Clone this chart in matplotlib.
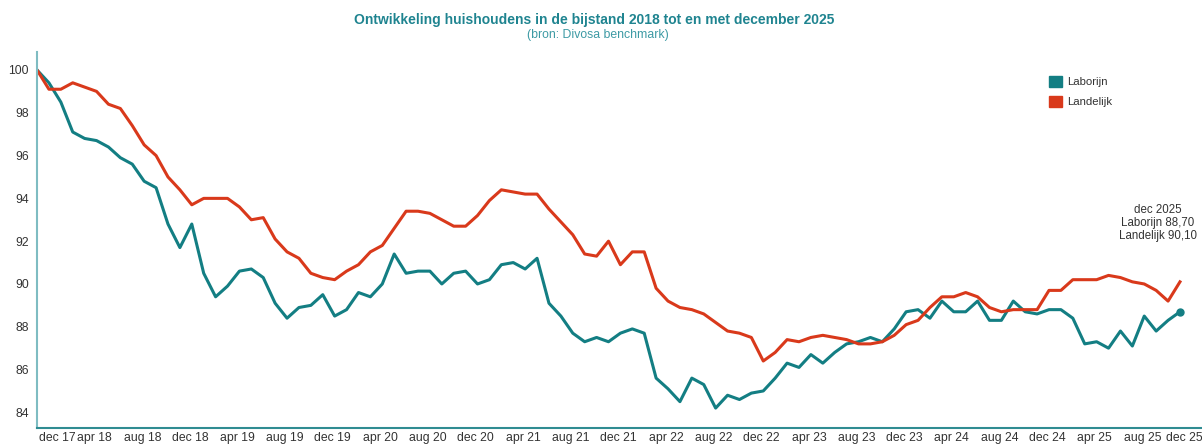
import numpy as np
import matplotlib
matplotlib.use('Agg')
import matplotlib.pyplot as plt
from matplotlib.patches import Patch
from matplotlib.transforms import ScaledTranslation

# --- Data ---
# Index (dec 2017 = 100), monthly from dec 17 to dec 25
laborijn = [
    100.0, 99.4, 98.5, 97.1, 96.8, 96.7, 96.4, 95.9, 95.6, 94.8, 94.5, 92.8,
    91.7, 92.8, 90.5, 89.4, 89.9, 90.6, 90.7, 90.3, 89.1, 88.4, 88.9, 89.0,
    89.5, 88.5, 88.8, 89.6, 89.4, 90.0, 91.4, 90.5, 90.6, 90.6, 90.0, 90.5,
    90.6, 90.0, 90.2, 90.9, 91.0, 90.7, 91.2, 89.1, 88.5, 87.7, 87.3, 87.5,
    87.3, 87.7, 87.9, 87.7, 85.6, 85.1, 84.5, 85.6, 85.3, 84.2, 84.8, 84.6,
    84.9, 85.0, 85.6, 86.3, 86.1, 86.7, 86.3, 86.8, 87.2, 87.3, 87.5, 87.3,
    87.9, 88.7, 88.8, 88.4, 89.2, 88.7, 88.7, 89.2, 88.3, 88.3, 89.2, 88.7,
    88.6, 88.8, 88.8, 88.4, 87.2, 87.3, 87.0, 87.8, 87.1, 88.5, 87.8, 88.3,
    88.7,
]
landelijk = [
    100.0, 99.1, 99.1, 99.4, 99.2, 99.0, 98.4, 98.2, 97.4, 96.5, 96.0, 95.0,
    94.4, 93.7, 94.0, 94.0, 94.0, 93.6, 93.0, 93.1, 92.1, 91.5, 91.2, 90.5,
    90.3, 90.2, 90.6, 90.9, 91.5, 91.8, 92.6, 93.4, 93.4, 93.3, 93.0, 92.7,
    92.7, 93.2, 93.9, 94.4, 94.3, 94.2, 94.2, 93.5, 92.9, 92.3, 91.4, 91.3,
    92.0, 90.9, 91.5, 91.5, 89.8, 89.2, 88.9, 88.8, 88.6, 88.2, 87.8, 87.7,
    87.5, 86.4, 86.8, 87.4, 87.3, 87.5, 87.6, 87.5, 87.4, 87.2, 87.2, 87.3,
    87.6, 88.1, 88.3, 88.9, 89.4, 89.4, 89.6, 89.4, 88.9, 88.7, 88.8, 88.8,
    88.8, 89.7, 89.7, 90.2, 90.2, 90.2, 90.4, 90.3, 90.1, 90.0, 89.7, 89.2,
    90.1,
]
months = ['jan', 'feb', 'mrt', 'apr', 'mei', 'jun', 'jul', 'aug', 'sep', 'okt', 'nov', 'dec']
labels = []
for i in range(len(laborijn)):
    m = (11 + i) % 12
    y = 17 + (11 + i) // 12
    labels.append(f'{months[m]} {y:02d}')
yticks = [84, 86, 88, 90, 92, 94, 96, 98, 100]

# --- Style ---
plt.rcParams['font.family'] = ['Liberation Sans', 'DejaVu Sans']
teal = '#137e83'
red = '#d9391b'
text_col = '#333333'

fig = plt.figure(figsize=(12.02, 4.46), dpi=100)
ax = fig.add_axes([0.0308, 0.0404, 0.9692, 0.843])

x = np.arange(len(laborijn))
ax.plot(x, laborijn, color=teal, lw=2.2, solid_joinstyle='round')
ax.plot(x, landelijk, color=red, lw=2.2, solid_joinstyle='round')
ax.plot(x[-1], laborijn[-1], 'o', color=teal, ms=5)

ax.set_xlim(0, 97.85)
ax.set_ylim(83.27, 100.84)

# axes look
for s in ['top', 'right']:
    ax.spines[s].set_visible(False)
ax.spines['left'].set_color('#7fbcc2')
ax.spines['left'].set_linewidth(1.5)
ax.spines['bottom'].set_color('#2f8c92')
ax.spines['bottom'].set_linewidth(1.5)

ax.set_yticks(yticks)
ax.set_yticklabels([str(v) for v in yticks])
ax.tick_params(axis='y', length=0, pad=6, labelsize=8.8, labelcolor=text_col)

tick_pos = x[::4]
ax.set_xticks(tick_pos)
ax.set_xticklabels([labels[i] for i in tick_pos])
ax.tick_params(axis='x', length=0, pad=3, labelsize=8.8, labelcolor=text_col)
xlabs = ax.get_xticklabels()
for k, lab in enumerate(xlabs):
    dx = 10
    if k == 0:
        dx = 20
    elif k == len(xlabs) - 1:
        dx = 4
    lab.set_transform(lab.get_transform() + ScaledTranslation(dx / 100, 0, fig.dpi_scale_trans))

# --- Titles ---
fig.text(0.494, 0.956, 'Ontwikkeling huishoudens in de bijstand 2018 tot en met december 2025',
         ha='center', va='center', fontsize=10, fontweight='bold', color='#1f8490')
fig.text(0.497, 0.921, '(bron: Divosa benchmark)', ha='center', va='center',
         fontsize=8.8, color='#3d9aa4')

# --- Legend ---
handles = [Patch(facecolor=teal, edgecolor=teal, label='Laborijn'),
           Patch(facecolor=red, edgecolor=red, label='Landelijk')]
fig.legend(handles=handles, loc='upper left', bbox_to_anchor=(0.864, 0.853),
           frameon=False, fontsize=8.2, handlelength=1.15, handleheight=1.15,
           handletextpad=0.45, labelspacing=0.72, labelcolor=text_col)

# --- End annotation ---
ax.annotate(f'dec 2025\nLaborijn {laborijn[-1]:.2f}'.replace('.', ',') +
            f'\nLandelijk {landelijk[-1]:.2f}'.replace('.', ','),
            xy=(x[-1], landelijk[-1]), xytext=(-16, 29), textcoords='offset points',
            ha='center', va='bottom', fontsize=8.3, color=text_col, linespacing=1.1)

fig.savefig('out.png', dpi=100)
